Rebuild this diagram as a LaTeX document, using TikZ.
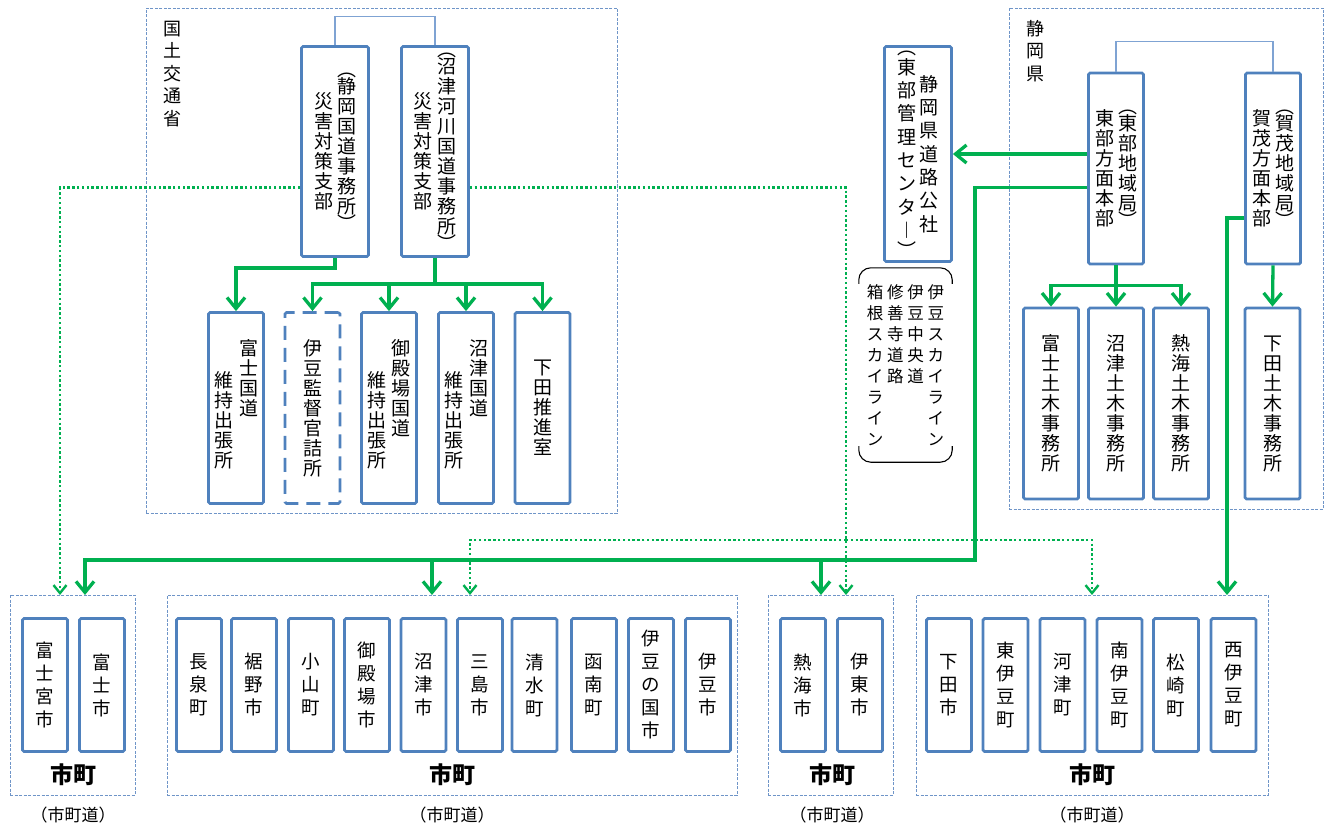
\documentclass[tikz,border=0pt]{standalone}
\usepackage{fontspec}
\setmainfont{Noto Sans CJK JP}
\usetikzlibrary{arrows.meta}

\definecolor{boxblue}{HTML}{4F81BD}
\definecolor{grpblue}{HTML}{6F95C8}
\definecolor{linkblue}{HTML}{7FA3D3}
\definecolor{rgreen}{HTML}{00B050}

% one column of vertical (tategaki) text, centred on the math axis
\newcommand\vcol[2][20pt]{$\vcenter{\baselineskip=#1\relax\lineskiplimit=-100pt
  \expandafter\vcolaux#2\relax}$}
\def\vcolaux#1{\ifx\relax#1\else
  \ifx︶#1\vskip-.15\baselineskip\fi
  \hbox to 1em{\hss#1\hss}%
  \ifx︵#1\vskip-.15\baselineskip\fi
  \expandafter\vcolaux\fi}

\begin{document}
\begin{tikzpicture}[x=1pt, y=-1pt,
  orgbox/.style={draw=boxblue, line width=2.8pt, rounded corners=1.5pt,
    fill=white, inner sep=0pt},
  hq/.style={orgbox, minimum width=67, minimum height=210,
    font=\fontsize{19}{20}\selectfont},
  office/.style={orgbox, minimum width=55, minimum height=191,
    font=\fontsize{19}{20}\selectfont},
  city/.style={orgbox, minimum width=45, minimum height=133,
    font=\fontsize{18.5}{23}\selectfont},
  grp/.style={draw=grpblue, line width=0.8pt, dash pattern=on 3pt off 1.5pt,
    inner sep=0pt},
  arr/.style={draw=rgreen, line width=3.3pt,
    -{Straight Barb[length=11pt,width=18pt]}},
  dotarr/.style={draw=rgreen, line width=2.4pt, dash pattern=on 2.4pt off 2.4pt,
    -{Straight Barb[length=8pt,width=13pt]}},
  link/.style={draw=linkblue, line width=1.1pt},
  orgname/.style={font=\fontsize{18}{22}\selectfont},
  shicho/.style={font=\bfseries\fontsize{23}{26}\selectfont},
  roadnote/.style={font=\fontsize{17}{20}\selectfont}
]
\useasboundingbox (0,0) rectangle (1327,832);

% groups
\node[grp, minimum width=471, minimum height=505] (mlit) at (381.5,260.5) {};
\node[grp, minimum width=314, minimum height=501] (pref) at (1166,258.5) {};
\node[orgname] (mlitname) at (172,74) {\vcol[22.5pt]{国土交通省}};
\node[orgname] (prefname) at (1035,51) {\vcol[22.5pt]{静岡県}};

% national offices
\node[hq] (A) at (335,151.5) {\vcol{災害対策支部}\hspace{4pt}\vcol{︵静岡国道事務所︶}};
\node[hq] (B) at (435,151.5) {\vcol{災害対策支部}\hspace{5pt}\vcol{︵沼津河川国道事務所︶}};
\node[office] (KT1) at (236,408) {\vcol{　　維持出張所}\hspace{6pt}\vcol{富士国道　　　}};
\node[office, dash pattern=on 14pt off 8pt] (KT2) at (312.5,408) {\vcol{伊豆監督官詰所}};
\node[office] (KT3) at (389,408) {\vcol{　　維持出張所}\hspace{5pt}\vcol{御殿場国道　　}};
\node[office] (KT4) at (466,408) {\vcol{　　維持出張所}\hspace{6pt}\vcol{沼津国道　　　}};
\node[office] (KT5) at (542.5,408) {\vcol{下田推進室}};

% road corporation
\node[hq, minimum height=215] (DK) at (918,154)
  {\vcol[23.3pt]{︵東部管理センタ︱︶}\hspace{3pt}\vcol[23.3pt]{静岡県道路公社}};
\node[font=\fontsize{16.5}{21}\selectfont, minimum width=93, minimum height=194,
  inner sep=0pt] (roads) at (905.5,365)
  {\vcol[21pt]{箱根スカイライン}\hspace{3.8pt}\vcol[21pt]{修善寺道路　　　}%
   \hspace{3.8pt}\vcol[21pt]{伊豆中央道　　　}\hspace{3.8pt}\vcol[21pt]{伊豆スカイライン}};
\draw[line width=1.1pt, rounded corners=12pt]
  ([yshift=-16pt]roads.north west) -- (roads.north west) -- (roads.north east)
  -- ([yshift=-16pt]roads.north east);
\draw[line width=1.1pt, rounded corners=12pt]
  ([yshift=16pt]roads.south west) -- (roads.south west) -- (roads.south east)
  -- ([yshift=16pt]roads.south east);

% prefecture
\node[office] (TB) at (1116,168.5) {\vcol{東部方面本部}\hspace{4pt}\vcol{︵東部地域局︶}};
\node[office] (KM) at (1273,168.5) {\vcol{賀茂方面本部}\hspace{4pt}\vcol{︵賀茂地域局︶}};
\node[office] (DB1) at (1051,403.5) {\vcol{富士土木事務所}};
\node[office] (DB2) at (1116,403.5) {\vcol{沼津土木事務所}};
\node[office] (DB3) at (1181,403.5) {\vcol{熱海土木事務所}};
\node[office] (DB4) at (1272.5,403.5) {\vcol{下田土木事務所}};

% municipalities
\node[grp, minimum width=125, minimum height=200] (g1) at (72.5,695) {};
\node[grp, minimum width=570, minimum height=200] (g2) at (452,695) {};
\node[grp, minimum width=125, minimum height=200] (g3) at (830.5,695) {};
\node[grp, minimum width=352, minimum height=200] (g4) at (1092,695) {};
\foreach \t/\x [count=\i] in {富士宮市/45, 富士市/102, 長泉町/199, 裾野市/254,
    小山町/311, 御殿場市/367, 沼津市/423.5, 三島市/480, 清水町/534.5, 函南町/594,
    伊豆の国市/651, 伊豆市/708, 熱海市/803, 伊東市/860, 下田市/949, 東伊豆町/1005.5,
    河津町/1062.5, 南伊豆町/1119.5, 松崎町/1176, 西伊豆町/1233.5}
  \node[city] (c\i) at (\x,685) {\vcol[23pt]{\t}};
\foreach \x [count=\i] in {73,452,832,1092} {
  \node[shicho] (shicho\i) at (\x,775) {市町};
  \node[roadnote] (road\i) at (\x,815) {（市町道）};
}

% connector points
\coordinate (dotrow) at (0,187.5);
\coordinate (kamorow) at (0,218);
\coordinate (fork) at (846,540);
\coordinate (drop) at (975,560);
\coordinate (g1dot) at (60,595);
\coordinate (g1sol) at (85,595);
\coordinate (g2sol) at (432,595);
\coordinate (g2dot) at (470,595);
\coordinate (g3sol) at (821,595);
\coordinate (g3dot) at (846,595);
\coordinate (g4dot) at (1092,595);
\coordinate (g4sol) at (1227,595);

% links between partner offices
\draw[link] (A.north) -- ++(0,-29) -| (B.north);
\draw[link] (TB.north) -- ++(0,-30) -| (KM.north);

% national chain
\draw[arr] (A.south) -- ++(0,10) -| (KT1.north);
\path (B.south) -- ++(0,26) coordinate (bj);
\foreach \t in {KT2,KT3,KT4,KT5}
  \draw[arr] (B.south) -- (bj) -| (\t.north);
\draw[dotarr] (A.west |- dotrow) -| (g1dot);
\draw[dotarr] (B.east |- dotrow) -| (g3dot);
\draw[dotarr] (fork) -| (g2dot);
\draw[dotarr] (fork) -| (g4dot);

% prefectural chain
\path (TB.south) -- ++(0,20) coordinate (tj);
\foreach \t in {DB1,DB2,DB3}
  \draw[arr] (TB.south) -- (tj) -| (\t.north);
\draw[arr] (KM.south) -- (DB4.north);
\draw[arr] (TB.west |- DK.east) -- (DK.east);
\draw[arr] (TB.west |- dotrow) -| (drop) -| (g1sol);
\draw[arr] (drop) -| (g2sol);
\draw[arr] (drop) -| (g3sol);
\draw[arr] (KM.west |- kamorow) -| (g4sol);
\end{tikzpicture}
\end{document}
